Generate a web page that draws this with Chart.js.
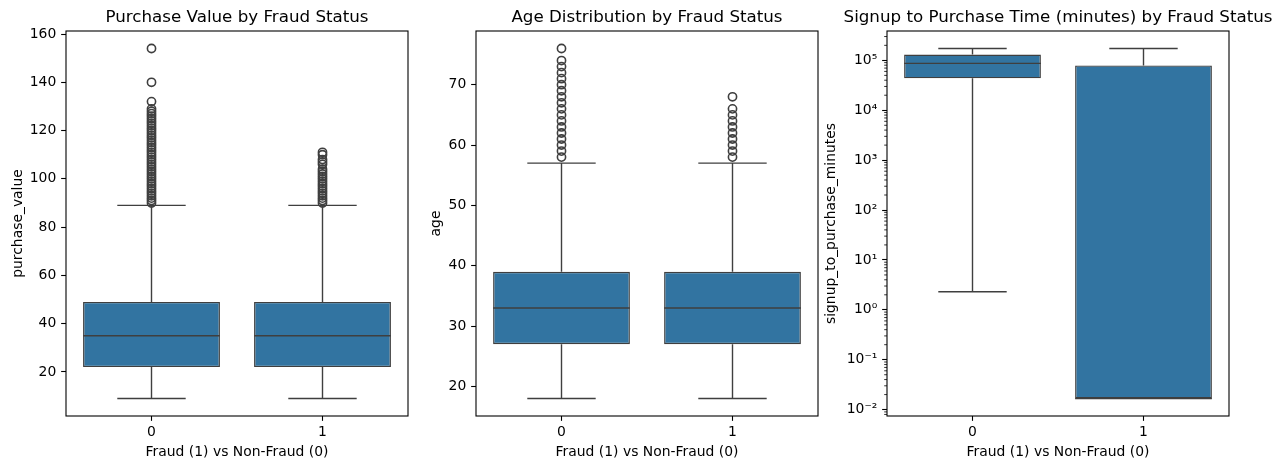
<!DOCTYPE html>
<html>
<head>
<meta charset="utf-8">
<script src="https://cdn.jsdelivr.net/npm/chart.js@4.4.1/dist/chart.umd.min.js"></script>
<style>
  html, body { margin: 0; padding: 0; background: #fff; overflow: hidden; }
  #wrap { position: relative; width: 1281px; height: 468px; overflow: hidden; }
  canvas { position: absolute; top: 0; }
</style>
</head>
<body>
<div id="wrap">
  <canvas id="pv"  width="482" height="468" style="left:-4px"></canvas>
  <canvas id="age" width="482" height="468" style="left:406px"></canvas>
  <canvas id="sp"  width="482" height="468" style="left:817px"></canvas>
</div>
<script>
/* ---- data ---- */
const CATEGORIES = ['0', '1'];

// purchase_value
const PV_WHISKER_LO = [9, 9];
const PV_Q1         = [22, 22];
const PV_MEDIAN     = [35, 35];
const PV_Q3         = [49, 49];
const PV_WHISKER_HI = [89, 89];
const PV_OUTLIERS_0 = [90, 91, 92, 93, 94, 95, 96, 97, 98, 99, 100, 101, 102, 103, 104, 105, 106, 107, 108, 109,
                       110, 111, 112, 113, 114, 115, 116, 117, 118, 119, 120, 121, 122, 123, 124, 125, 126, 127,
                       128, 129, 132, 140, 154];
const PV_OUTLIERS_1 = [90, 91, 92, 93, 94, 95, 96, 97, 98, 99, 100, 101, 102, 103, 104, 106, 107, 108, 110, 111];
const PV_TICKS      = [20, 40, 60, 80, 100, 120, 140, 160];

// age
const AGE_WHISKER_LO = [18, 18];
const AGE_Q1         = [27, 27];
const AGE_MEDIAN     = [33, 33];
const AGE_Q3         = [39, 39];
const AGE_WHISKER_HI = [57, 57];
const AGE_OUTLIERS_0 = [58, 59, 60, 61, 62, 63, 64, 65, 66, 67, 68, 69, 70, 71, 72, 73, 74, 76];
const AGE_OUTLIERS_1 = [58, 59, 60, 61, 62, 63, 64, 65, 66, 68];
const AGE_TICKS      = [20, 30, 40, 50, 60, 70];

// signup_to_purchase_minutes (log axis)
const SP_WHISKER_LO = [2.3, 0.0167];
const SP_Q1         = [43600, 0.0167];
const SP_MEDIAN     = [87000, 0.0167];
const SP_Q3         = [131000, 79000];
const SP_WHISKER_HI = [172800, 172800];
const SP_OUTLIERS_0 = [];
const SP_OUTLIERS_1 = [];
const SP_TICKS       = [0.01, 0.1, 1, 10, 100, 1000, 10000, 100000];
const SP_TICK_LABELS = ['10\u207B\u00B2', '10\u207B\u00B9', '10\u2070', '10\u00B9', '10\u00B2', '10\u00B3', '10\u2074', '10\u2075'];

/* ---- style ---- */
const BOX_FILL  = '#3274a1';
const LINE_GRAY = '#3f3f3f';
const FONT      = "'DejaVu Sans', sans-serif";
const TICK_PX   = 13.9;
const TITLE_PX  = 16.7;
const SIDE      = 70;   // y-axis box width == right padding

Chart.defaults.font.family = FONT;
Chart.defaults.color = '#000';

// matplotlib-style 5% margins around the data
function marginRange(lo, hi, log) {
  if (log) {
    const a = Math.log10(lo), b = Math.log10(hi), m = (b - a) * 0.05;
    return [Math.pow(10, a - m), Math.pow(10, b + m)];
  }
  const m = (hi - lo) * 0.05;
  return [lo - m, hi + m];
}

// whiskers, caps, medians, drawn through the chart's own scales
const boxLinesPlugin = {
  id: 'boxLines',
  afterDatasetsDraw(chart, args, opts) {
    const { ctx } = chart;
    const y = chart.scales.y;
    const meta = chart.getDatasetMeta(0);
    ctx.save();
    ctx.strokeStyle = LINE_GRAY;
    ctx.lineWidth = 1.4;
    meta.data.forEach((bar, i) => {
      const half = bar.width / 2, cap = half / 2;
      const yLo = y.getPixelForValue(opts.lo[i]), yHi = y.getPixelForValue(opts.hi[i]);
      const yQ1 = y.getPixelForValue(opts.q1[i]), yQ3 = y.getPixelForValue(opts.q3[i]);
      const yMed = y.getPixelForValue(opts.med[i]);
      ctx.beginPath();
      ctx.moveTo(bar.x, yQ3); ctx.lineTo(bar.x, yHi);
      ctx.moveTo(bar.x - cap, yHi); ctx.lineTo(bar.x + cap, yHi);
      ctx.moveTo(bar.x, yQ1); ctx.lineTo(bar.x, yLo);
      ctx.moveTo(bar.x - cap, yLo); ctx.lineTo(bar.x + cap, yLo);
      ctx.moveTo(bar.x - half, yMed); ctx.lineTo(bar.x + half, yMed);
      ctx.stroke();
    });
    ctx.restore();
  }
};

// axes frame (all four spines), minor ticks on log axes, axes title centred on the plot area
const framePlugin = {
  id: 'frame',
  afterDraw(chart, args, opts) {
    const { ctx, chartArea: a } = chart;
    const y = chart.scales.y;
    ctx.save();
    if (y.type === 'logarithmic') {
      ctx.strokeStyle = '#000';
      ctx.lineWidth = 0.8;
      ctx.beginPath();
      for (let d = -3; d <= 6; d++) {
        for (let k = 2; k <= 9; k++) {
          const v = k * Math.pow(10, d);
          if (v < y.min || v > y.max) continue;
          const py = y.getPixelForValue(v);
          ctx.moveTo(a.left - 2.8, py); ctx.lineTo(a.left, py);
        }
      }
      ctx.stroke();
    }
    ctx.strokeStyle = '#000';
    ctx.lineWidth = 1.1;
    ctx.strokeRect(a.left, a.top, a.right - a.left, a.bottom - a.top);

    ctx.fillStyle = '#000';
    ctx.font = `${TITLE_PX}px ${FONT}`;
    ctx.textAlign = 'center';
    ctx.textBaseline = 'alphabetic';
    ctx.fillText(opts.text, (a.left + a.right) / 2, a.top - 8.6);
    ctx.restore();
  }
};

function renderBoxChart(canvasId, s) {
  const canvas = document.getElementById(canvasId);
  const lowAll  = Math.min(...s.lo, ...s.out0, ...s.out1);
  const highAll = Math.max(...s.hi, ...s.out0, ...s.out1);
  const [yMin, yMax] = marginRange(lowAll, highAll, s.log);

  const outlierSet = (vals, cat) => ({
    type: 'scatter',
    data: vals.map(v => ({ x: cat, y: v })),
    pointRadius: 4.1,
    pointBorderWidth: 1.6,
    pointBackgroundColor: 'rgba(0,0,0,0)',
    pointBorderColor: LINE_GRAY,
    order: 0,
  });

  return new Chart(canvas, {
    type: 'bar',
    data: {
      labels: CATEGORIES,
      datasets: [
        {
          data: CATEGORIES.map((c, i) => [s.q1[i], s.q3[i]]),
          backgroundColor: BOX_FILL,
          borderColor: LINE_GRAY,
          borderWidth: 1.4,
          borderSkipped: false,
          barPercentage: 0.8,
          categoryPercentage: 1.0,
          order: 1,
        },
        outlierSet(s.out0, CATEGORIES[0]),
        outlierSet(s.out1, CATEGORIES[1]),
      ]
    },
    options: {
      responsive: false,
      animation: false,
      layout: { padding: { left: 0, right: SIDE, top: 31, bottom: 0 } },
      plugins: {
        legend: { display: false },
        tooltip: { enabled: false },
        title: { display: false },
        boxLines: { lo: s.lo, q1: s.q1, med: s.med, q3: s.q3, hi: s.hi },
        frame: { text: s.title },
      },
      scales: {
        x: {
          type: 'category',
          offset: true,
          afterFit: sc => { sc.height = 52; },
          border: { display: false },
          grid: { display: true, offset: false, drawOnChartArea: false, drawTicks: true, tickLength: 4.86, tickWidth: 1.1, tickColor: '#000' },
          ticks: { font: { size: TICK_PX }, color: '#000', padding: 3 },
          title: {
            display: true,
            text: 'Fraud (1) vs Non-Fraud (0)',
            color: '#000',
            font: { size: TICK_PX },
            padding: { top: 0, bottom: 7.5 },
          },
        },
        y: {
          type: s.log ? 'logarithmic' : 'linear',
          min: yMin,
          max: yMax,
          afterFit: sc => { sc.width = SIDE; },
          afterBuildTicks: sc => { sc.ticks = s.ticks.map(v => ({ value: v })); },
          border: { display: false },
          grid: { display: true, drawOnChartArea: false, drawTicks: true, tickLength: 4.86, tickWidth: 1.1, tickColor: '#000' },
          ticks: {
            font: { size: TICK_PX },
            color: '#000',
            padding: 4.86,
            autoSkip: false,
            callback: (v, i) => s.tickLabels ? s.tickLabels[i] : String(v),
          },
          title: {
            display: true,
            text: s.yTitle,
            color: '#000',
            font: { size: TICK_PX },
            padding: { top: s.yTitlePad, bottom: 0 },
          },
        }
      }
    },
    plugins: [boxLinesPlugin, framePlugin]
  });
}

renderBoxChart('pv', {
  title: 'Purchase Value by Fraud Status', yTitle: 'purchase_value', yTitlePad: 13.7,
  lo: PV_WHISKER_LO, q1: PV_Q1, med: PV_MEDIAN, q3: PV_Q3, hi: PV_WHISKER_HI,
  out0: PV_OUTLIERS_0, out1: PV_OUTLIERS_1, ticks: PV_TICKS, log: false,
});

renderBoxChart('age', {
  title: 'Age Distribution by Fraud Status', yTitle: 'age', yTitlePad: 21.7,
  lo: AGE_WHISKER_LO, q1: AGE_Q1, med: AGE_MEDIAN, q3: AGE_Q3, hi: AGE_WHISKER_HI,
  out0: AGE_OUTLIERS_0, out1: AGE_OUTLIERS_1, ticks: AGE_TICKS, log: false,
});

renderBoxChart('sp', {
  title: 'Signup to Purchase Time (minutes) by Fraud Status', yTitle: 'signup_to_purchase_minutes', yTitlePad: 5.7,
  lo: SP_WHISKER_LO, q1: SP_Q1, med: SP_MEDIAN, q3: SP_Q3, hi: SP_WHISKER_HI,
  out0: SP_OUTLIERS_0, out1: SP_OUTLIERS_1, ticks: SP_TICKS, tickLabels: SP_TICK_LABELS, log: true,
});
</script>
</body>
</html>
